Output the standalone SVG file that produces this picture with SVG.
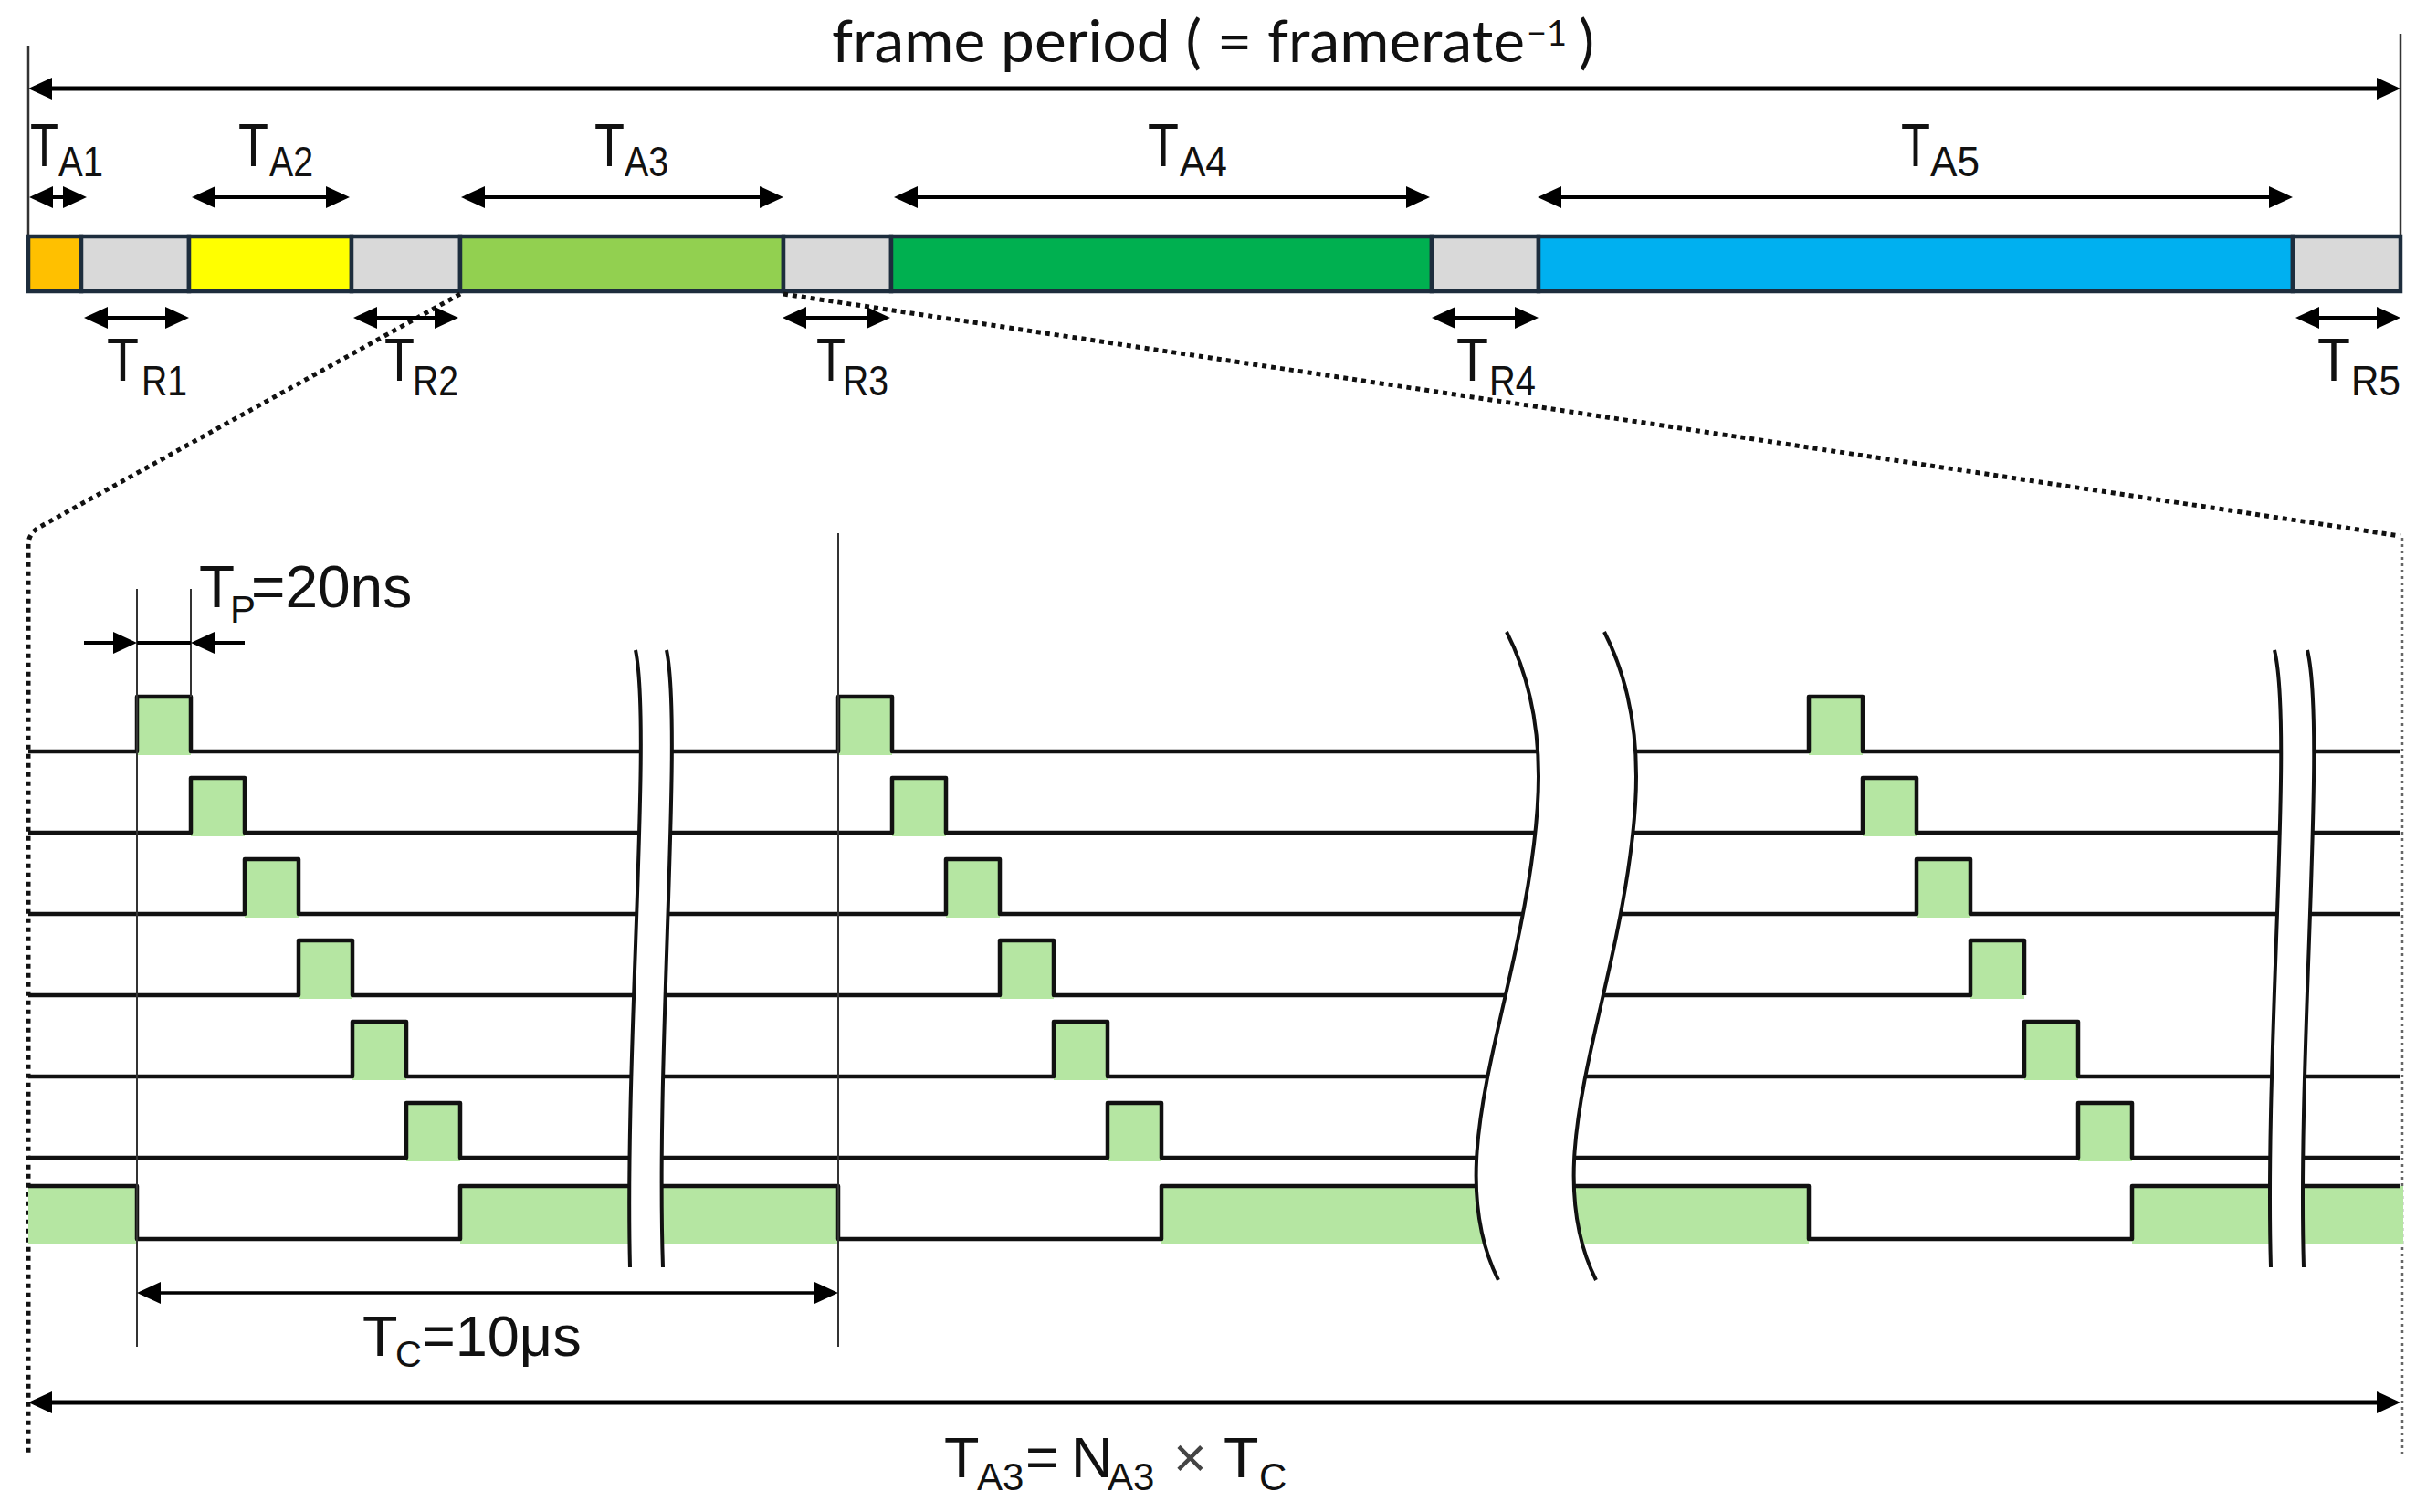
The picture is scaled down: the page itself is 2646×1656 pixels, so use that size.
<svg xmlns="http://www.w3.org/2000/svg" width="2646" height="1656" viewBox="0 0 2646 1656">
<style>
.ln{stroke:#000;stroke-width:4;fill:none}
.lnb{stroke:#000;stroke-width:5;fill:none}
.sig{stroke:#111;stroke-width:4.5;fill:none;stroke-linejoin:round}
.guide{stroke:#333;stroke-width:2;fill:none}
.dot{stroke:#111;stroke-width:5;stroke-dasharray:5 5;fill:none}
.dotg{stroke:#666;stroke-width:2.5;stroke-dasharray:3 4;fill:none}
.gf{fill:#b5e6a2}
.brk{fill:#fff;stroke:none}
.brkl{stroke:#111;stroke-width:4;fill:none}
.seg{stroke:#1d2d3d;stroke-width:4.5}
.nar{font-family:"Liberation Sans Narrow","Liberation Sans",Arial,sans-serif;fill:#111}
.ari{font-family:"Liberation Sans",Arial,sans-serif;fill:#111}
.ttl{font-family:Lato,"Open Sans",sans-serif;fill:#111}
</style>
<defs>
<marker id="ah" viewBox="0 0 26 24" markerWidth="26" markerHeight="24" refX="20" refY="12" orient="auto-start-reverse" markerUnits="userSpaceOnUse">
<path d="M0,0 L26,12 L0,24 Z" fill="#000"/>
</marker>
</defs>
<rect width="2646" height="1656" fill="#fff"/>

<g id="frame-period">
<line class="guide" x1="31" y1="50" x2="31" y2="259" style="stroke-width:2.5"/>
<line class="guide" x1="2629" y1="37" x2="2629" y2="259" style="stroke-width:2.5"/>
<text class="ttl" font-size="64"><tspan x="911" y="68" textLength="759" lengthAdjust="spacingAndGlyphs">frame period ( = framerate</tspan><tspan x="1672" y="50" font-size="38">−1</tspan><tspan x="1729" y="68">)</tspan></text>
</g>

<g id="bar">
<rect class="seg" x="31" y="259" width="58" height="60" fill="#ffc000"/>
<rect class="seg" x="89" y="259" width="118" height="60" fill="#d9d9d9"/>
<rect class="seg" x="207" y="259" width="178" height="60" fill="#ffff00"/>
<rect class="seg" x="385" y="259" width="119" height="60" fill="#d9d9d9"/>
<rect class="seg" x="504" y="259" width="354" height="60" fill="#92d050"/>
<rect class="seg" x="858" y="259" width="118" height="60" fill="#d9d9d9"/>
<rect class="seg" x="976" y="259" width="592" height="60" fill="#00b050"/>
<rect class="seg" x="1568" y="259" width="117" height="60" fill="#d9d9d9"/>
<rect class="seg" x="1685" y="259" width="826" height="60" fill="#00b0f0"/>
<rect class="seg" x="2511" y="259" width="118" height="60" fill="#d9d9d9"/>
</g>

<g id="labels-a">
<text class="nar" font-size="66"><tspan x="33" y="182" textLength="31" lengthAdjust="spacingAndGlyphs">T</tspan><tspan x="64" y="193" font-size="46" textLength="49" lengthAdjust="spacingAndGlyphs">A1</tspan></text>
<text class="nar" font-size="66"><tspan x="261" y="182" textLength="33" lengthAdjust="spacingAndGlyphs">T</tspan><tspan x="295" y="193" font-size="46" textLength="48" lengthAdjust="spacingAndGlyphs">A2</tspan></text>
<text class="nar" font-size="66"><tspan x="651" y="182" textLength="33" lengthAdjust="spacingAndGlyphs">T</tspan><tspan x="684" y="193" font-size="46" textLength="48" lengthAdjust="spacingAndGlyphs">A3</tspan></text>
<text class="nar" font-size="66"><tspan x="1257" y="182" textLength="34" lengthAdjust="spacingAndGlyphs">T</tspan><tspan x="1292" y="193" font-size="46" textLength="52" lengthAdjust="spacingAndGlyphs">A4</tspan></text>
<text class="nar" font-size="66"><tspan x="2082" y="182" textLength="32" lengthAdjust="spacingAndGlyphs">T</tspan><tspan x="2114" y="193" font-size="46" textLength="54" lengthAdjust="spacingAndGlyphs">A5</tspan></text>
</g>
<g id="labels-r">
<text class="nar" font-size="66"><tspan x="117" y="417" textLength="35" lengthAdjust="spacingAndGlyphs">T</tspan><tspan x="155" y="433" font-size="46" textLength="50" lengthAdjust="spacingAndGlyphs">R1</tspan></text>
<text class="nar" font-size="66"><tspan x="421" y="417" textLength="33" lengthAdjust="spacingAndGlyphs">T</tspan><tspan x="452" y="433" font-size="46" textLength="50" lengthAdjust="spacingAndGlyphs">R2</tspan></text>
<text class="nar" font-size="66"><tspan x="894" y="417" textLength="32" lengthAdjust="spacingAndGlyphs">T</tspan><tspan x="923" y="433" font-size="46" textLength="50" lengthAdjust="spacingAndGlyphs">R3</tspan></text>
<text class="nar" font-size="66"><tspan x="1595" y="417" textLength="35" lengthAdjust="spacingAndGlyphs">T</tspan><tspan x="1631" y="433" font-size="46" textLength="51" lengthAdjust="spacingAndGlyphs">R4</tspan></text>
<text class="nar" font-size="66"><tspan x="2538" y="417" textLength="36" lengthAdjust="spacingAndGlyphs">T</tspan><tspan x="2575" y="433" font-size="46" textLength="54" lengthAdjust="spacingAndGlyphs">R5</tspan></text>
</g>

<g id="zoom-outline">
<path class="dot" d="M504,322 L42,578 Q31,585 31,597 V1592"/>
<path class="dot" d="M858,322 L2629,587"/>
<path class="dotg" d="M2631,589 V1595"/>
</g>

<g id="signal-fills">
<rect class="gf" x="150" y="763" width="59" height="64"/>
<rect class="gf" x="918" y="763" width="59" height="64"/>
<rect class="gf" x="1981" y="763" width="59" height="64"/>
<rect class="gf" x="209" y="852" width="59" height="64"/>
<rect class="gf" x="977" y="852" width="59" height="64"/>
<rect class="gf" x="2040" y="852" width="59" height="64"/>
<rect class="gf" x="268" y="941" width="59" height="64"/>
<rect class="gf" x="1036" y="941" width="59" height="64"/>
<rect class="gf" x="2099" y="941" width="59" height="64"/>
<rect class="gf" x="327" y="1030" width="59" height="64"/>
<rect class="gf" x="1095" y="1030" width="59" height="64"/>
<rect class="gf" x="2158" y="1030" width="59" height="64"/>
<rect class="gf" x="386" y="1119" width="59" height="64"/>
<rect class="gf" x="1154" y="1119" width="59" height="64"/>
<rect class="gf" x="2217" y="1119" width="59" height="64"/>
<rect class="gf" x="445" y="1208" width="59" height="64"/>
<rect class="gf" x="1213" y="1208" width="59" height="64"/>
<rect class="gf" x="2276" y="1208" width="59" height="64"/>
<rect class="gf" x="31" y="1299" width="119" height="63"/>
<rect class="gf" x="504" y="1299" width="414" height="63"/>
<rect class="gf" x="1272" y="1299" width="709" height="63"/>
<rect class="gf" x="2335" y="1299" width="297" height="63"/>
</g>

<g id="signals">
<path class="sig" d="M31,823 H150 V763 H209 V823 H918 V763 H977 V823 H1981 V763 H2040 V823 H2629"/>
<path class="sig" d="M31,912 H209 V852 H268 V912 H977 V852 H1036 V912 H2040 V852 H2099 V912 H2629"/>
<path class="sig" d="M31,1001 H268 V941 H327 V1001 H1036 V941 H1095 V1001 H2099 V941 H2158 V1001 H2629"/>
<path class="sig" d="M31,1090 H327 V1030 H386 V1090 H1095 V1030 H1154 V1090 H2158 V1030 H2217 V1090"/>
<path class="sig" d="M31,1179 H386 V1119 H445 V1179 H1154 V1119 H1213 V1179 H2217 V1119 H2276 V1179 H2629"/>
<path class="sig" d="M31,1268 H445 V1208 H504 V1268 H1213 V1208 H1272 V1268 H2276 V1208 H2335 V1268 H2629"/>
<path class="sig" d="M31,1299 H150 V1357 H504 V1299 H918 V1357 H1272 V1299 H1981 V1357 H2335 V1299 H2629"/>
</g>

<g id="breaks">
<path class="brk" d="M696,712 C714,800 684,1150 690,1388 L726,1388 C718,1150 748,800 730,712 Z"/>
<path class="brkl" d="M696,712 C714,800 684,1150 690,1388"/>
<path class="brkl" d="M730,712 C748,800 718,1150 726,1388"/>
<path class="brk" d="M1650,692 C1700,790 1690,900 1660,1040 C1630,1180 1590,1300 1641,1402 L1748,1402 C1697,1300 1737,1180 1767,1040 C1797,900 1807,790 1757,692 Z"/>
<path class="brkl" d="M1650,692 C1700,790 1690,900 1660,1040 C1630,1180 1590,1300 1641,1402"/>
<path class="brkl" d="M1757,692 C1807,790 1797,900 1767,1040 C1737,1180 1697,1300 1748,1402"/>
<path class="brk" d="M2491,712 C2512,800 2480,1150 2487,1388 L2523,1388 C2516,1150 2548,800 2527,712 Z"/>
<path class="brkl" d="M2491,712 C2512,800 2480,1150 2487,1388"/>
<path class="brkl" d="M2527,712 C2548,800 2516,1150 2523,1388"/>
</g>

<g id="guides">
<line class="guide" x1="150" y1="645" x2="150" y2="1475"/>
<line class="guide" x1="209" y1="645" x2="209" y2="763"/>
<line class="guide" x1="918" y1="584" x2="918" y2="1475"/>
</g>

<g id="connectors">
<path class="lnb" d="M37,97 H2623" marker-start="url(#ah)" marker-end="url(#ah)"/>
<path class="ln" d="M38,216 H89" marker-start="url(#ah)" marker-end="url(#ah)"/>
<path class="ln" d="M216,216 H377" marker-start="url(#ah)" marker-end="url(#ah)"/>
<path class="ln" d="M511,216 H852" marker-start="url(#ah)" marker-end="url(#ah)"/>
<path class="ln" d="M985,216 H1560" marker-start="url(#ah)" marker-end="url(#ah)"/>
<path class="ln" d="M1690,216 H2505" marker-start="url(#ah)" marker-end="url(#ah)"/>
<path class="ln" d="M98,348 H201" marker-start="url(#ah)" marker-end="url(#ah)"/>
<path class="ln" d="M393,348 H496" marker-start="url(#ah)" marker-end="url(#ah)"/>
<path class="ln" d="M863,348 H969" marker-start="url(#ah)" marker-end="url(#ah)"/>
<path class="ln" d="M1574,348 H1679" marker-start="url(#ah)" marker-end="url(#ah)"/>
<path class="ln" d="M2520,348 H2623" marker-start="url(#ah)" marker-end="url(#ah)"/>
<path class="ln" d="M92,704 H144" marker-end="url(#ah)"/>
<path class="ln" d="M150,704 H209"/>
<path class="ln" d="M268,704 H215" marker-end="url(#ah)"/>
<path class="ln" d="M156,1416 H912" marker-start="url(#ah)" marker-end="url(#ah)" style="stroke-width:3.5"/>
<path class="lnb" d="M37,1536 H2623" marker-start="url(#ah)" marker-end="url(#ah)"/>
</g>

<g id="label-tp">
<text class="ari" font-size="64"><tspan x="218" y="665">T</tspan><tspan x="252" y="682" font-size="42">P</tspan><tspan x="275" y="665">=20ns</tspan></text>
</g>
<g id="label-tc">
<text class="ari" font-size="63"><tspan x="397" y="1485">T</tspan><tspan x="433" y="1497" font-size="40">C</tspan><tspan x="462" y="1485">=10μs</tspan></text>
</g>
<g id="label-formula">
<text class="ari" font-size="63"><tspan x="1034" y="1618">T</tspan><tspan x="1070" y="1632" font-size="42">A3</tspan><tspan x="1123" y="1618">=</tspan><tspan x="1173" y="1618">N</tspan><tspan x="1213" y="1632" font-size="42">A3</tspan><tspan x="1285" y="1618" fill="#444">×</tspan><tspan x="1340" y="1618">T</tspan><tspan x="1379" y="1632" font-size="42">C</tspan></text>
</g>
</svg>
